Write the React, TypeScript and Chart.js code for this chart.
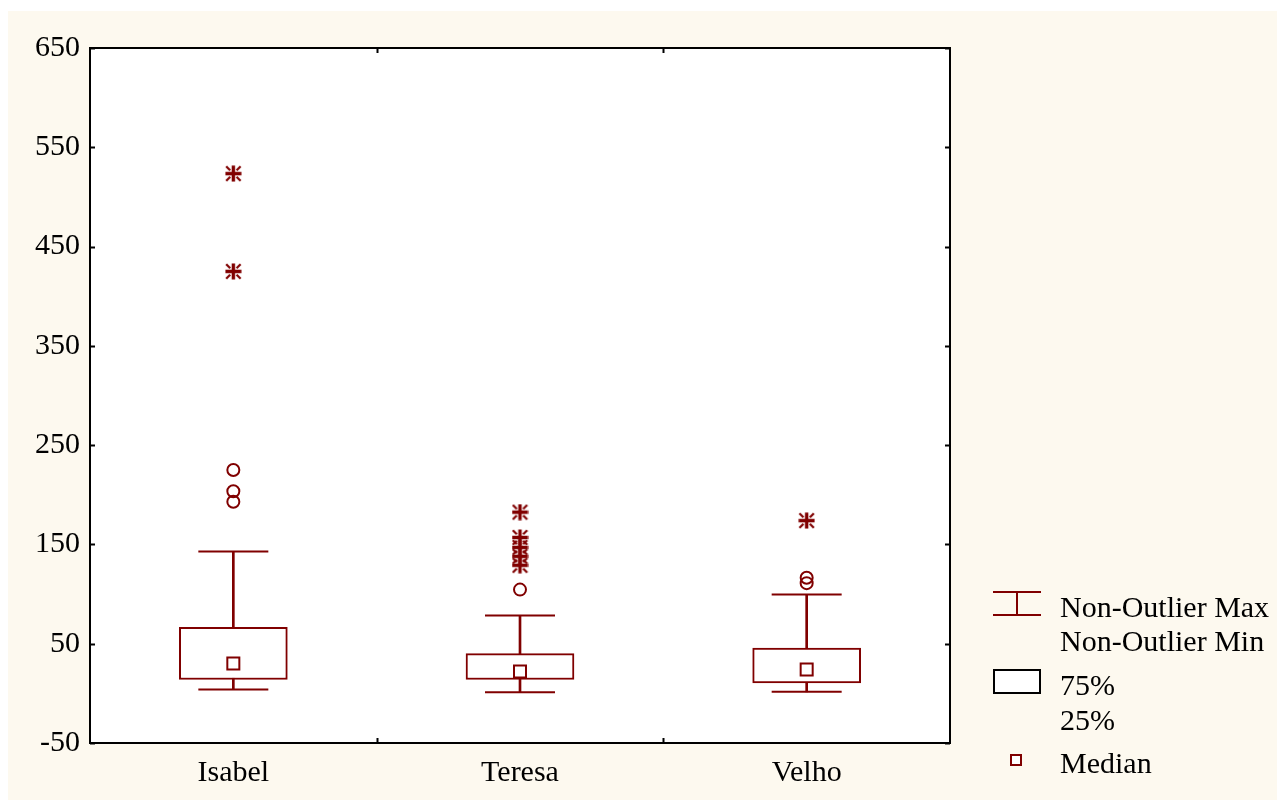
import { useEffect, useRef } from 'react';
import { Chart, registerables } from 'chart.js';

Chart.register(...registerables);

// Box-plot summary per site
const categories = ['Isabel', 'Teresa', 'Velho'];
const whiskerMin = [4, 1, 1.5];
const quartile1 = [14, 14, 10.5];
const medians = [30, 22, 24];
const quartile3 = [66.5, 40, 45.5];
const whiskerMax = [143, 78.5, 99.5];
const outliers = [[225, 203.5, 193], [104.5], [116.5, 111]];
const extremes = [[523.5, 425], [182.5, 157, 147, 138, 129], [174]];
const yTicks = [-50, 50, 150, 250, 350, 450, 550, 650];

const MAROON = '#800000';
const CREAM = '#fdf9ef';
const FONT = '"Liberation Serif", "Times New Roman", serif';
const FONT_SIZE = 30;

// Asterisk marker for extreme values: heavy cross with short diagonal strokes
function asteriskMarker(): HTMLCanvasElement {
  const s = 17;
  const m = s / 2;
  const c = document.createElement('canvas');
  c.width = s;
  c.height = s;
  const g = c.getContext('2d')!;
  g.strokeStyle = MAROON;
  g.lineWidth = 3.4;
  g.beginPath();
  g.moveTo(0.5, m);
  g.lineTo(s - 0.5, m);
  g.moveTo(m, 0.5);
  g.lineTo(m, s - 0.5);
  g.stroke();
  g.lineWidth = 2.2;
  g.beginPath();
  const d1 = 3.2;
  const d2 = 7.2;
  for (const [sx, sy] of [[1, 1], [1, -1], [-1, 1], [-1, -1]]) {
    g.moveTo(m + sx * d1, m + sy * d1);
    g.lineTo(m + sx * d2, m + sy * d2);
  }
  g.stroke();
  return c;
}

const toPoints = (vals: number[]) => categories.map((c, i) => ({ x: c, y: vals[i] }));
const toGroupPoints = (groups: number[][]) =>
  categories.flatMap((c, i) => groups[i].map((v) => ({ x: c, y: v })));

// White plot area, black frame and inward tick marks on all four sides
const framePlugin = {
  id: 'frame',
  beforeDatasetsDraw(chart: any) {
    const { ctx, chartArea: a } = chart;
    ctx.save();
    ctx.fillStyle = '#ffffff';
    ctx.fillRect(a.left, a.top, a.right - a.left, a.bottom - a.top);
    ctx.restore();
  },
  afterDatasetsDraw(chart: any) {
    const { ctx, chartArea: a, scales } = chart;
    const tl = 5;
    ctx.save();
    ctx.strokeStyle = '#000000';
    ctx.lineWidth = 2;
    ctx.strokeRect(a.left, a.top, a.right - a.left, a.bottom - a.top);
    ctx.beginPath();
    for (const t of scales.y.ticks) {
      const y = Math.round(scales.y.getPixelForValue(t.value)) + 0.5;
      ctx.moveTo(a.left, y);
      ctx.lineTo(a.left + tl, y);
      ctx.moveTo(a.right, y);
      ctx.lineTo(a.right - tl, y);
    }
    for (let i = 0; i < categories.length - 1; i++) {
      const x = Math.round((scales.x.getPixelForValue(i) + scales.x.getPixelForValue(i + 1)) / 2) + 0.5;
      ctx.moveTo(x, a.bottom);
      ctx.lineTo(x, a.bottom - tl);
      ctx.moveTo(x, a.top);
      ctx.lineTo(x, a.top + tl);
    }
    ctx.stroke();
    ctx.restore();
  },
};

function BoxPlot() {
  const canvasRef = useRef<HTMLCanvasElement | null>(null);

  useEffect(() => {
    const canvas = canvasRef.current;
    if (!canvas) return;
    const star = asteriskMarker();
    const pointLayer = (data: any[], extra: any, order: number) => ({
      type: 'line' as const,
      data,
      showLine: false,
      order,
      ...extra,
    });

    const chart = new Chart(canvas, {
      type: 'bar',
      data: {
        labels: categories,
        datasets: [
          {
            type: 'bar',
            data: categories.map((_, i) => [whiskerMin[i], whiskerMax[i]]),
            backgroundColor: MAROON,
            borderWidth: 0,
            barThickness: 2,
            grouped: false,
            order: 5,
          } as any,
          {
            type: 'bar',
            data: categories.map((_, i) => [quartile1[i], quartile3[i]]),
            backgroundColor: '#ffffff',
            borderColor: MAROON,
            borderWidth: 2,
            borderSkipped: false,
            barThickness: 108,
            grouped: false,
            order: 4,
          } as any,
          pointLayer(toPoints(whiskerMax), {
            pointStyle: 'line', pointRadius: 35, pointBorderWidth: 2, pointBorderColor: MAROON,
          }, 3),
          pointLayer(toPoints(whiskerMin), {
            pointStyle: 'line', pointRadius: 35, pointBorderWidth: 2, pointBorderColor: MAROON,
          }, 3),
          pointLayer(toPoints(medians), {
            pointStyle: 'rect', pointRadius: 8.5, pointBorderWidth: 2,
            pointBorderColor: MAROON, pointBackgroundColor: '#ffffff',
          }, 1),
          pointLayer(toGroupPoints(outliers), {
            pointStyle: 'circle', pointRadius: 6, pointBorderWidth: 2,
            pointBorderColor: MAROON, pointBackgroundColor: 'rgba(0,0,0,0)',
          }, 0),
          pointLayer(toGroupPoints(extremes), {
            pointStyle: star, pointRadius: 8,
          }, 0),
        ] as any,
      },
      options: {
        responsive: false,
        animation: false,
        events: [],
        layout: { padding: { top: 35, right: 332, left: 0, bottom: 0 } },
        plugins: {
          legend: { display: false },
          tooltip: { enabled: false },
        },
        scales: {
          x: {
            type: 'category',
            offset: true,
            grid: { display: false, drawTicks: false },
            border: { display: false },
            ticks: { color: '#000000', font: { family: FONT, size: FONT_SIZE }, padding: 12 },
            afterFit: (s: any) => { s.height = 57; },
          },
          y: {
            type: 'linear',
            min: -50,
            max: 650,
            afterBuildTicks: (s: any) => { s.ticks = yTicks.map((v) => ({ value: v })); },
            grid: { display: false, drawTicks: false },
            border: { display: false },
            ticks: { color: '#000000', font: { family: FONT, size: FONT_SIZE }, padding: 10 },
            afterFit: (s: any) => { s.width = 82; },
          },
        },
      } as any,
      plugins: [framePlugin],
    });
    return () => chart.destroy();
  }, []);

  const text = (label: string, left: number, centerY: number) => (
    <div
      style={{
        position: 'absolute', left, top: centerY - 18, lineHeight: '36px',
        fontFamily: FONT, fontSize: FONT_SIZE, color: '#000', whiteSpace: 'nowrap',
      }}
    >
      {label}
    </div>
  );

  return (
    <div style={{ position: 'relative', marginTop: 3, width: 1274, height: 789, background: CREAM }}>
      <canvas ref={canvasRef} width={1274} height={789} style={{ display: 'block', width: 1274, height: 789 }} />
      {/* legend */}
      <div style={{ position: 'absolute', left: 985, top: 580, width: 48, height: 25, boxSizing: 'border-box', borderTop: `2px solid ${MAROON}`, borderBottom: `2px solid ${MAROON}` }} />
      <div style={{ position: 'absolute', left: 1008, top: 580, width: 2, height: 25, background: MAROON }} />
      {text('Non-Outlier Max', 1052, 596)}
      {text('Non-Outlier Min', 1052, 630)}
      <div style={{ position: 'absolute', left: 985, top: 658, width: 48, height: 25, boxSizing: 'border-box', border: '2px solid #000', background: '#fff' }} />
      {text('75%', 1052, 674)}
      {text('25%', 1052, 709)}
      <div style={{ position: 'absolute', left: 1002, top: 743, width: 12, height: 12, boxSizing: 'border-box', border: `2px solid ${MAROON}`, background: '#fff' }} />
      {text('Median', 1052, 752)}
    </div>
  );
}

export default function App() {
  return <BoxPlot />;
}
